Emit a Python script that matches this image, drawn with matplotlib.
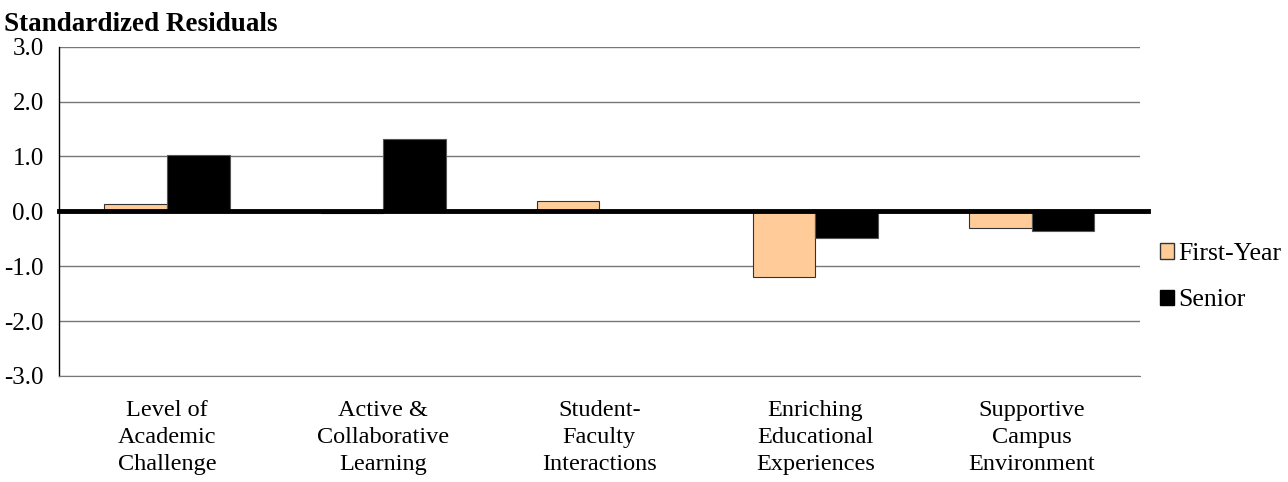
import numpy as np
import matplotlib.pyplot as plt
from matplotlib.patches import Patch

categories = ["Level of\nAcademic\nChallenge", "Active &\nCollaborative\nLearning",
              "Student-\nFaculty\nInteractions", "Enriching\nEducational\nExperiences",
              "Supportive\nCampus\nEnvironment"]
first_year = [0.13, -0.03, 0.18, -1.19, -0.30]
senior = [1.03, 1.32, -0.02, -0.49, -0.35]
yticks = [-3.0, -2.0, -1.0, 0.0, 1.0, 2.0, 3.0]

plt.rcParams["font.family"] = ["Liberation Serif", "DejaVu Serif"]

fig = plt.figure(figsize=(12.88, 4.82), dpi=100)
ax = fig.add_axes([0.0458, 0.22, 0.839, 0.683])

x = np.arange(len(categories))
w = 0.29
ax.bar(x - w / 2, first_year, w, color="#FFCC99", edgecolor="#333333", linewidth=0.8, zorder=3)
ax.bar(x + w / 2, senior, w, color="black", edgecolor="#555555", linewidth=0.8, zorder=3)

ax.set_xlim(-0.5, len(categories) - 0.5)
ax.set_ylim(-3, 3)
ax.set_yticks(yticks)
ax.set_yticklabels([f"{v:.1f}" for v in yticks], fontsize=18)
ax.set_xticks(x)
ax.set_xticklabels(categories, fontsize=17.5, linespacing=1.4)
ax.tick_params(axis="x", length=0, pad=17)
ax.tick_params(axis="y", length=0, pad=11)
ax.grid(axis="y", color="#777777", linewidth=1.0, zorder=0)
for s in ["top", "right"]:
    ax.spines[s].set_visible(False)
ax.spines["bottom"].set_color("#777777")
ax.spines["left"].set_linewidth(1.0)

ax.axhline(0, xmin=0, xmax=1.008, color="black", linewidth=3.5, zorder=4, clip_on=False)

fig.text(0.003, 0.935, "Standardized Residuals", fontsize=19.5, fontweight="bold")

handles = [Patch(facecolor="#FFCC99", edgecolor="#333333", label="First-Year"),
           Patch(facecolor="black", edgecolor="black", label="Senior")]
fig.legend(handles=handles, loc="center left", bbox_to_anchor=(0.8826, 0.425), frameon=False,
           fontsize=18.5, handlelength=0.55, handleheight=0.55, handletextpad=0.15, labelspacing=0.95)

fig.savefig("out.png", dpi=100)
